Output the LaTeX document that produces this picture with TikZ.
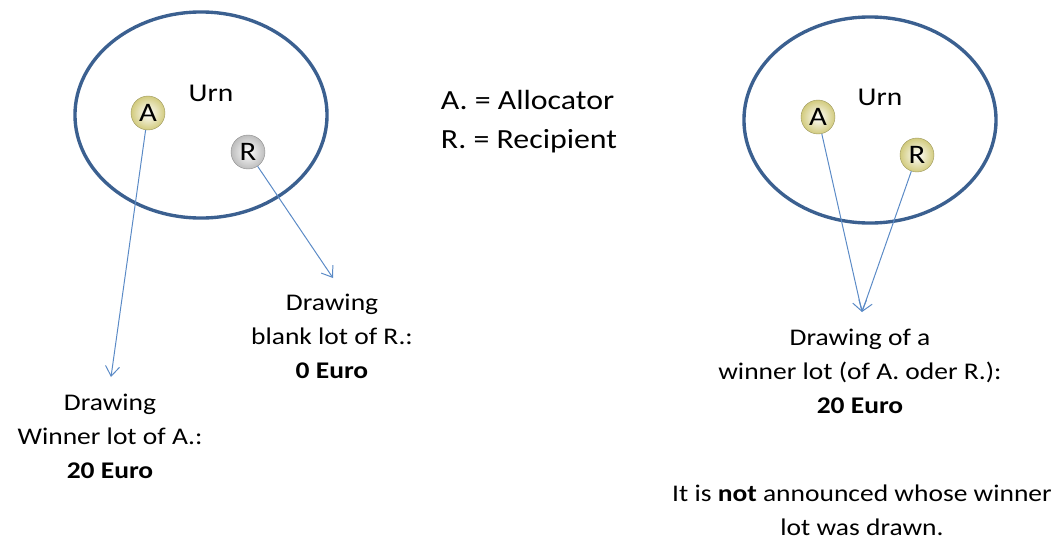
\documentclass[tikz,border=0pt]{standalone}
\usepackage{fontspec}
\setmainfont{Carlito}[FakeStretch=1.15]
\usepackage{tikz}
\usepackage{xcolor}
\usetikzlibrary{arrows.meta,positioning,shapes.geometric}

\definecolor{urnblue}{HTML}{3B6090}
\definecolor{arrowblue}{HTML}{5A8AC6}
\definecolor{ballyellow}{HTML}{D2CB7E}
\definecolor{ballgrey}{HTML}{BDBDBD}

\tikzset{
  urn/.style={ellipse, draw=urnblue, line width=2.4pt, minimum width=6.3cm, minimum height=5.15cm, inner sep=0pt},
  ball/.style={circle, draw=#1!75!black, line width=0.3pt, inner color=white, outer color=#1, minimum size=0.85cm, inner sep=0pt, font=\fontsize{19}{19}\selectfont},
  lot/.style={draw=arrowblue, line width=0.7pt, -{Straight Barb[length=7pt,width=10pt]}},
  txt/.style={align=center, font=\fontsize{17}{24.2}\selectfont},
}

\begin{document}
\begin{tikzpicture}[x=0.025cm, y=-0.025cm]
\useasboundingbox (0,0) rectangle (1061,540);

% left urn
\node[urn] (urnL) at (201,115) {};
\node[font=\fontsize{18.2}{20}\selectfont] (urnLtxt) at (211,93) {Urn};
\node[ball=ballyellow] (aL) at (148,113) {A};
\node[ball=ballgrey] (rL) at (248,152) {R};

\coordinate (tipA) at (111,377);
\coordinate (tipR) at (333,278);
\draw[lot] (aL) -- (tipA);
\draw[lot] (rL) -- (tipR);

\node[txt] (winA) at (110,436) {Drawing\\Winner lot of A.:\\\textbf{20 Euro}};
\node[txt] (blankR) at (332,336) {Drawing\\blank lot of R.:\\\textbf{0 Euro}};

% legend
\node[align=left, anchor=west, font=\fontsize{19.7}{27.7}\selectfont] (legend) at (436,122) {A. = Allocator\\R. = Recipient};

% right urn
\node[urn] (urnR) at (870,120) {};
\node[font=\fontsize{18.2}{20}\selectfont] (urnRtxt) at (880,97) {Urn};
\node[ball=ballyellow] (aR) at (818,117) {A};
\node[ball=ballyellow] (rR) at (917,155) {R};

\coordinate (tipW) at (862,312);
\draw[lot] (aR) -- (tipW);
\draw[lot] (rR) -- (tipW);

\node[txt] (winAR) at (860,371) {Drawing of a\\winner lot (of A. oder R.):\\\textbf{20 Euro}};
\node[txt] (note) at (862,510) {It is \textbf{not} announced whose winner\\lot was drawn.};

\end{tikzpicture}
\end{document}
